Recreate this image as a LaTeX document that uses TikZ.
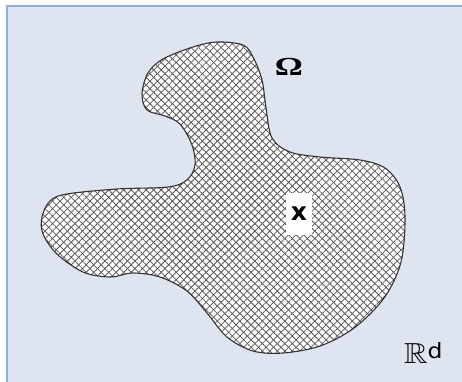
\documentclass[tikz,border=0pt]{standalone}
\usepackage{amssymb}
\usepackage{fontspec}
\setsansfont{DejaVu Sans}
\newfontfamily\omfont{Liberation Serif}
\usetikzlibrary{patterns.meta}
\definecolor{bgfill}{HTML}{DEE5F1}
\definecolor{bgline}{HTML}{95AED3}
\tikzset{
  blob/.style={draw=black!80, line width=1.1pt},
  hatchA/.style={pattern={Lines[angle=45,distance=5.3pt,line width=0.8pt]}, pattern color=black!65},
  hatchB/.style={pattern={Lines[angle=-45,distance=5.3pt,line width=0.8pt]}, pattern color=black!65},
  lbl/.style={inner sep=0pt, anchor=center}
}
\begin{document}
\begin{tikzpicture}[x=1pt,y=-1pt]
\useasboundingbox (0,0) rectangle (462,381);
\begin{scope}
\clip (0,0) rectangle (462,381);
\draw[fill=bgfill, draw=bgline, line width=2.2pt] (7,6) rectangle (480,400);
\end{scope}
\def\blobpath{plot[smooth cycle, tension=0.55] coordinates {
 (217,42) (243,45) (253,57) (262,80) (266,108) (272,138) (290,152) (320,157)
 (360,160) (385,168) (400,187) (405,217) (401,262) (384,298) (354,328)
 (320,346) (283,353) (253,351) (227,337) (207,313) (187,291) (160,277)
 (133,273) (110,277) (83,272) (57,254) (43,234) (42,217) (50,201) (67,194)
 (117,189) (168,187) (187,180) (195,165) (192,145) (180,124) (165,116)
 (147,110) (142,94) (148,73) (163,59) (193,47)}}
\fill[white] \blobpath;
\fill[hatchA] \blobpath;
\fill[hatchB] \blobpath;
\draw[blob] \blobpath;
\node[fill=white, minimum width=26pt, minimum height=42pt, inner sep=0pt] (xbox) at (299,214) {};
\node[lbl, font=\sffamily\bfseries\fontsize{25}{25}\selectfont] (xl) at (xbox.center) {x};
\node[lbl, xscale=1.35, font=\omfont\bfseries\fontsize{26}{26}\selectfont] (om) at (289,67) {Ω};
\node[lbl, anchor=base west, xscale=1.12, font=\fontsize{29}{29}\selectfont] (rd) at (404,363) {$\mathbb{R}$\raisebox{5pt}{\sffamily\fontsize{21}{21}\selectfont d}};
\end{tikzpicture}
\end{document}
